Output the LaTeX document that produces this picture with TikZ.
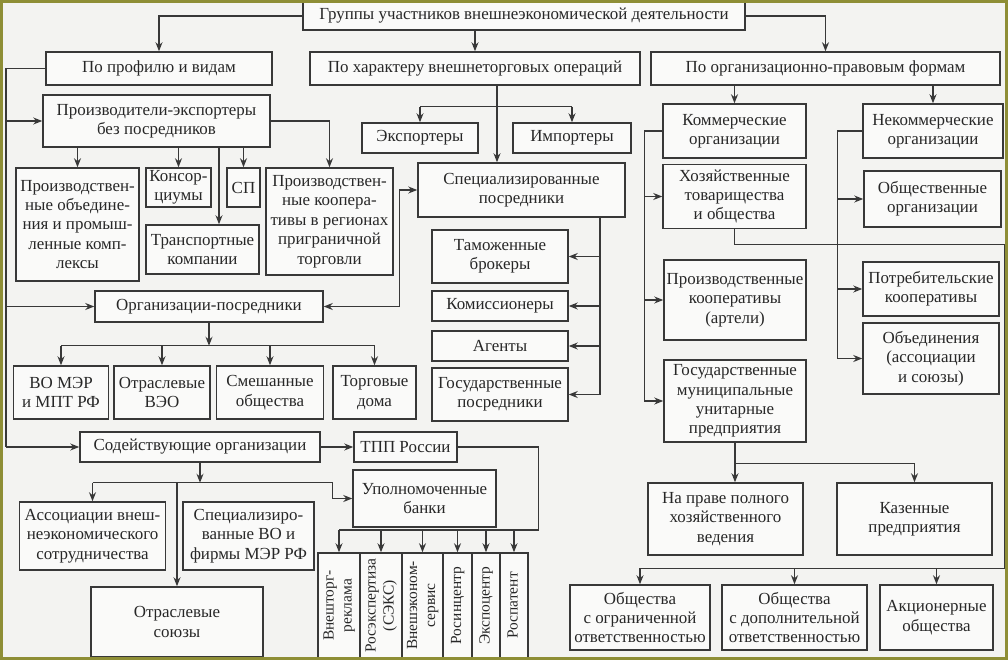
\documentclass[tikz,border=0pt]{standalone}
\usepackage{fontspec}
\setmainfont{Liberation Serif}
\usepackage{graphicx}
\usetikzlibrary{arrows.meta,calc}
\definecolor{paper}{HTML}{F3F3F1}
\definecolor{ink}{HTML}{383838}
\definecolor{frame}{HTML}{8E8E36}
\newcommand{\uptext}[1]{\rotatebox{90}{\fontsize{15.5}{18}\selectfont\begin{tabular}{@{}c@{}}#1\end{tabular}}}

\begin{document}
\begin{tikzpicture}[x=1bp, y=-1bp,
  box/.style={draw=ink, line width=1.5bp, fill=white!55!paper, inner sep=0pt, align=center, text=ink!70!black, font=\fontsize{17}{19.5}\selectfont},
  wh/.style 2 args={minimum width=#1bp, minimum height=#2bp},
  wire/.style={draw=ink, line width=1.3bp},
  arr/.style={wire, -{Stealth[length=9bp,width=7bp]}},
  arr2/.style={wire, {Stealth[length=9bp,width=7bp]}-{Stealth[length=9bp,width=7bp]}}
]
  \useasboundingbox (0,0) rectangle (1008,660);
  \fill[paper] (0,0) rectangle (1008,660);

  % верхний уровень
  \node[box, wh={442}{28}] (grp) at (524,16) {Группы участников внешнеэкономической деятельности};
  \node[box, wh={226}{33}] (prof) at (159,68.5) {По профилю и видам};
  \node[box, wh={330}{33}] (har) at (475,68.5) {По характеру внешнеторговых операций};
  \node[box, wh={349}{33}] (org) at (825.5,68.5) {По организационно-правовым формам};

  % по профилю и видам
  \node[box, wh={227}{52}] (proizv) at (156.5,121) {Производители-экспортеры\\без посредников};
  \node[box, wh={123}{113}] (pobj) at (77.5,224.5) {Производствен-\\ные объедине-\\ния и промыш-\\ленные комп-\\лексы};
  \node[box, wh={65}{39}] (kons) at (178.5,187.5) {Консор-\\циумы};
  \node[box, wh={33}{39}] (sp) at (243.5,187.5) {СП};
  \node[box, wh={113}{49}] (trans) at (202.5,249.5) {Транспортные\\компании};
  \node[box, wh={127}{107}] (pkoop) at (329.5,221.5) {Производствен-\\ные коопера-\\тивы в регионах\\приграничной\\торговли};
  \node[box, wh={228}{31}] (posr) at (209,306.5) {Организации-посредники};
  \node[box, wh={95}{53}] (vomer) at (61,392.5) {ВО МЭР\\и МПТ РФ};
  \node[box, wh={96}{53}] (otrveo) at (162,392.5) {Отраслевые\\ВЭО};
  \node[box, wh={107}{53}] (smesh) at (270,392.5) {Смешанные\\общества};
  \node[box, wh={83}{53}] (torg) at (374.5,392.5) {Торговые\\дома};
  \node[box, wh={240}{30}] (sodeist) at (200,447) {Содействующие организации};
  \node[box, wh={103}{30}] (tpp) at (405.5,447) {ТПП России};
  \node[box, wh={143}{57}] (bank) at (424.5,498.5) {Уполномоченные\\банки};
  \node[box, wh={146}{68}] (assoc) at (92.5,536) {Ассоциации внеш-\\неэкономического\\сотрудничества};
  \node[box, wh={131}{68}] (spvo) at (248.5,536) {Специализиро-\\ванные ВО и\\фирмы МЭР РФ};
  \node[box, wh={172}{70}] (otrs) at (177,622) {Отраслевые\\союзы};
  \node[box, wh={42}{105}] (reklama) at (339,605.5) {\uptext{Внешторг-\\реклама}};
  \node[box, wh={42}{105}] (ekspert) at (381,605.5) {\uptext{Росэкспертиза\\(СЭКС)}};
  \node[box, wh={41}{105}] (servis) at (422.5,605.5) {\uptext{Внешэконом-\\сервис}};
  \node[box, wh={29}{105}] (rosinc) at (457.5,605.5) {\uptext{Росинцентр}};
  \node[box, wh={28}{105}] (ekspoc) at (486,605.5) {\uptext{Экспоцентр}};
  \node[box, wh={28}{105}] (patent) at (514,605.5) {\uptext{Роспатент}};

  % по характеру операций
  \node[box, wh={116}{30}] (exp) at (420,138) {Экспортеры};
  \node[box, wh={118}{30}] (imp) at (572,138) {Импортеры};
  \node[box, wh={207}{54}] (spec) at (521.5,190) {Специализированные\\посредники};
  \node[box, wh={136}{53}] (tam) at (500,256.5) {Таможенные\\брокеры};
  \node[box, wh={136}{30}] (kom) at (500,306) {Комиссионеры};
  \node[box, wh={136}{30}] (agent) at (500,346) {Агенты};
  \node[box, wh={136}{53}] (gospos) at (500,394.5) {Государственные\\посредники};

  % по организационно-правовым формам
  \node[box, wh={143}{54}] (kommer) at (734.5,131) {Коммерческие\\организации};
  \node[box, wh={140}{54}] (nekom) at (933,131) {Некоммерческие\\организации};
  \node[box, wh={143}{64}] (hoz) at (734.5,196.5) {Хозяйственные\\товарищества\\и общества};
  \node[box, wh={137}{56}] (obsh) at (932.5,199) {Общественные\\организации};
  \node[box, wh={142}{80}] (prkoop) at (735,300) {Производственные\\кооперативы\\(артели)};
  \node[box, wh={136}{54}] (potreb) at (931,289) {Потребительские\\кооперативы};
  \node[box, wh={136}{71}] (obed) at (931,358.5) {Объединения\\(ассоциации\\и союзы)};
  \node[box, wh={142}{82}] (gmup) at (735,401) {Государственные\\муниципальные\\унитарные\\предприятия};
  \node[box, wh={155}{72}] (napr) at (725.5,519) {На праве полного\\хозяйственного\\ведения};
  \node[box, wh={155}{72}] (kazen) at (914.5,519) {Казенные\\предприятия};
  \node[box, wh={140}{65}] (ooo) at (640,617.5) {Общества\\с ограниченной\\ответственностью};
  \node[box, wh={145}{65}] (odo) at (794.5,617.5) {Общества\\с дополнительной\\ответственностью};
  \node[box, wh={113}{65}] (ao) at (936.5,617.5) {Акционерные\\общества};

  % связи сверху
  \draw[arr] (grp.west) -| (prof.north);
  \draw[arr] (grp.south -| har.north) -- (har.north);
  \draw[arr] (grp.east) -| (org.north);

  % левый ствол
  \coordinate (trunk) at (6,0);
  \draw[wire] (prof.west) -- (prof.west -| trunk) -- (sodeist.west -| trunk);
  \foreach \n in {proizv,posr,sodeist}
    \draw[arr] (\n.west -| trunk) -- (\n.west);

  \foreach \n in {pobj,kons,sp}
    \draw[arr] (proizv.south -| \n.north) -- (\n.north);
  \coordinate (tx) at ($(trans.north)+(16.5,0)$);
  \draw[arr] (proizv.south -| tx) -- (tx);
  \draw[arr] (proizv.east) -| (pkoop.north);

  \draw[arr] (posr.south) -- ++(0,23) coordinate (pb);
  \draw[wire] (pb -| vomer.north) -- (pb -| torg.north);
  \foreach \n in {vomer,otrveo,smesh,torg}
    \draw[arr] (pb -| \n.north) -- (\n.north);
  \draw[arr2] (posr.east) -| ([xshift=-18bp]spec.west) -- (spec.west);

  \draw[arr] (sodeist.east) -- (tpp.west);
  \draw[arr] (sodeist.south) -- ++(0,20) coordinate (sb);
  \draw[arr] (sb -| assoc.north) -| ([xshift=-20bp]bank.west) -- (bank.west);
  \draw[arr] (sb -| assoc.north) -- (assoc.north);
  \draw[arr] (sb -| otrs.north) -- (otrs.north);

  \coordinate (tb) at ($(tpp.east)+(81,83)$);
  \draw[wire] (tpp.east) -| (tb) -- (tb -| reklama.north);
  \foreach \n in {reklama,ekspert,servis,rosinc,ekspoc,patent}
    \draw[arr] (tb -| \n.north) -- (\n.north);

  % характер операций
  \coordinate (hx) at ($(har.south)+(22,0)$);
  \draw[arr] (hx) -- (hx |- spec.north);
  \coordinate (hb) at ($(hx)+(0,21)$);
  \draw[wire] (hb -| exp.north) -- (hb -| imp.north);
  \foreach \n in {exp,imp}
    \draw[arr] (hb -| \n.north) -- (\n.north);
  \coordinate (sv) at ($(spec.south)+(78.5,0)$);
  \draw[wire] (sv) -- (sv |- gospos.east);
  \foreach \n in {tam,kom,agent,gospos}
    \draw[arr] (sv |- \n.east) -- (\n.east);

  % организационно-правовые формы
  \draw[arr] (org.south -| kommer.north) -- (kommer.north);
  \draw[arr] (org.south -| nekom.north) -- (nekom.north);
  \draw[wire] (kommer.west) -- ++(-18,0) coordinate (kv) -- (kv |- gmup.west);
  \foreach \n in {hoz,prkoop,gmup}
    \draw[arr] (kv |- \n.west) -- (\n.west);
  \draw[wire] (nekom.west) -- ++(-25,0) coordinate (nv) -- (nv |- obed.west);
  \foreach \n in {obsh,potreb,obed}
    \draw[arr] (nv |- \n.west) -- (\n.west);

  \coordinate (rt) at ($(hoz.south)+(270.5,15)$);
  \coordinate (rb) at ($(rt)+(0,324)$);
  \draw[wire] (hoz.south) |- (rt) -- (rb) -- (rb -| ooo.north);
  \foreach \n in {ooo,odo,ao}
    \draw[arr] (rb -| \n.north) -- (\n.north);

  \draw[wire] (gmup.south) -- ++(0,21) coordinate (gb) -- (gb -| kazen.north);
  \draw[arr] (gb) -- (gb |- napr.north);
  \draw[arr] (gb -| kazen.north) -- (kazen.north);

  \draw[frame, line width=3bp] (1.5,1.5) rectangle (1006.5,658.5);
\end{tikzpicture}
\end{document}
